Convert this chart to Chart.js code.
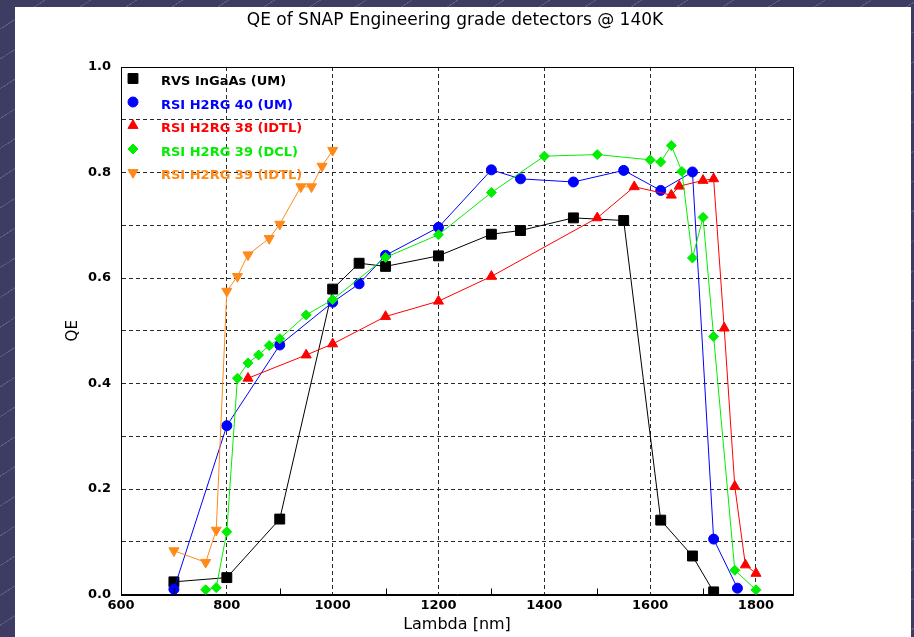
<!DOCTYPE html>
<html>
<head>
<meta charset="utf-8">
<title>QE of SNAP Engineering grade detectors</title>
<script src="https://cdn.jsdelivr.net/npm/chart.js@4.4.1/dist/chart.umd.min.js"></script>
<style>
  html, body { margin: 0; padding: 0; }
  body {
    width: 914px;
    height: 637px;
    overflow: hidden;
    position: relative;
    background-color: #3d3d63;
    background-image: repeating-linear-gradient(147deg, rgba(255,255,255,0) 0px, rgba(255,255,255,0) 24px, rgba(255,255,255,0.16) 24px, rgba(255,255,255,0.16) 25px);
  }
  #panel { position: absolute; left: 15px; top: 7px; width: 896px; height: 630px; background: #fff; }
</style>
</head>
<body>
<div id="panel"><canvas id="qeChart" width="896" height="630"></canvas></div>
<script>
// wavelengths in nm, QE as fraction
const rvsLambda = [700, 800, 900, 1000, 1050, 1100, 1200, 1300, 1355, 1455, 1550, 1620, 1680, 1720];
const rvsQE = [0.024, 0.032, 0.143, 0.579, 0.628, 0.622, 0.642, 0.683, 0.690, 0.714, 0.709, 0.141, 0.073, 0.005];

const h2rg40Lambda = [700, 800, 900, 1000, 1050, 1100, 1200, 1300, 1355, 1455, 1550, 1620, 1680, 1720, 1765];
const h2rg40QE = [0.010, 0.320, 0.473, 0.554, 0.589, 0.643, 0.696, 0.805, 0.788, 0.782, 0.804, 0.766, 0.801, 0.105, 0.012];

const h2rg38Lambda = [840, 950, 1000, 1100, 1200, 1300, 1500, 1570, 1640, 1655, 1700, 1720, 1740, 1760, 1780, 1800];
const h2rg38QE = [0.410, 0.454, 0.475, 0.527, 0.556, 0.603, 0.714, 0.773, 0.757, 0.774, 0.785, 0.788, 0.505, 0.205, 0.056, 0.040];

const h2rg39dLambda = [760, 780, 800, 820, 840, 860, 880, 900, 950, 1000, 1100, 1200, 1300, 1400, 1500, 1600, 1620, 1640, 1660, 1680, 1700, 1720, 1760, 1800];
const h2rg39dQE = [0.009, 0.013, 0.119, 0.410, 0.439, 0.454, 0.472, 0.485, 0.530, 0.559, 0.639, 0.682, 0.762, 0.831, 0.834, 0.824, 0.820, 0.851, 0.802, 0.638, 0.715, 0.489, 0.046, 0.009];

const h2rg39iLambda = [700, 760, 780, 800, 820, 840, 880, 900, 940, 960, 980, 1000];
const h2rg39iQE = [0.083, 0.061, 0.122, 0.575, 0.603, 0.644, 0.675, 0.702, 0.773, 0.773, 0.812, 0.842];

const seriesLabels = ['RVS InGaAs (UM)', 'RSI H2RG 40 (UM)', 'RSI H2RG 38 (IDTL)', 'RSI H2RG 39 (DCL)', 'RSI H2RG 39 (IDTL)'];

const xLabelValues = [600, 800, 1000, 1200, 1400, 1600, 1800];
const yLabelValues = [0.0, 0.2, 0.4, 0.6, 0.8, 1.0];

const FONT = '"DejaVu Sans", sans-serif';
const GRID = '#2a2a2a';

function toPoints(xs, ys) {
  return xs.map((x, i) => ({ x: x, y: ys[i] }));
}

function makeSeries(label, xs, ys, color, style, radius, rotation, order) {
  return {
    label: label,
    data: toPoints(xs, ys),
    borderColor: color,
    backgroundColor: color,
    borderWidth: 1,
    pointStyle: style,
    pointRadius: radius,
    pointRotation: rotation,
    pointBorderWidth: 1,
    pointBorderColor: color,
    pointBackgroundColor: color,
    tension: 0,
    clip: 0,
    order: order
  };
}

// legend drawn inside the plot area, text coloured like its series
const insideLegend = {
  id: 'insideLegend',
  afterDatasetsDraw(chart) {
    const { ctx, chartArea } = chart;
    ctx.save();
    ctx.font = 'bold 13px ' + FONT;
    ctx.textBaseline = 'middle';
    ctx.textAlign = 'left';
    chart.data.datasets.forEach((ds, i) => {
      const y = chartArea.top + 15 + i * 23.5;
      ctx.fillStyle = ds.backgroundColor;
      ctx.strokeStyle = ds.borderColor;
      ctx.lineWidth = 1;
      Chart.helpers.drawPoint(ctx, {
        pointStyle: ds.pointStyle,
        rotation: ds.pointRotation,
        radius: ds.pointRadius,
        borderWidth: 1
      }, chartArea.left + 12, y - 3.5);
      ctx.fillStyle = ds.borderColor;
      ctx.fillText(ds.label, chartArea.left + 40, y);
    });
    ctx.restore();
  }
};

// solid frame plus the short inward ticks at the odd hundreds
const plotFrame = {
  id: 'plotFrame',
  afterDraw(chart) {
    const { ctx, chartArea, scales } = chart;
    ctx.save();
    ctx.strokeStyle = '#000';
    ctx.lineWidth = 1;
    ctx.setLineDash([]);
    ctx.strokeRect(Math.round(chartArea.left) + 0.5, Math.round(chartArea.top) + 0.5,
      Math.round(chartArea.right - chartArea.left), Math.round(chartArea.bottom - chartArea.top));
    ctx.beginPath();
    scales.x.ticks.forEach((t) => {
      if (t.value % 200 !== 0) {
        const px = Math.round(scales.x.getPixelForValue(t.value)) + 0.5;
        ctx.moveTo(px, chartArea.bottom);
        ctx.lineTo(px, chartArea.bottom - 6);
      }
    });
    ctx.stroke();
    ctx.restore();
  }
};

new Chart(document.getElementById('qeChart'), {
  type: 'line',
  data: {
    datasets: [
      makeSeries(seriesLabels[0], rvsLambda, rvsQE, '#000000', 'rect', 7, 0, 5),
      makeSeries(seriesLabels[1], h2rg40Lambda, h2rg40QE, '#0000ff', 'circle', 5, 0, 4),
      makeSeries(seriesLabels[2], h2rg38Lambda, h2rg38QE, '#ff0000', 'triangle', 5.8, 0, 3),
      makeSeries(seriesLabels[3], h2rg39dLambda, h2rg39dQE, '#00ee00', 'rectRot', 5, 0, 2),
      makeSeries(seriesLabels[4], h2rg39iLambda, h2rg39iQE, '#ff8a1a', 'triangle', 5.8, 180, 1)
    ]
  },
  options: {
    responsive: false,
    animation: false,
    layout: { padding: { left: 0, right: 16, top: 0, bottom: 0 } },
    plugins: {
      legend: { display: false },
      tooltip: { enabled: false },
      title: {
        display: true,
        text: 'QE of SNAP Engineering grade detectors @ 140K',
        color: '#000',
        font: { family: FONT, size: 17, weight: 'normal', lineHeight: 1.2 },
        padding: { top: 3, bottom: 36.6 }
      }
    },
    scales: {
      x: {
        type: 'linear',
        min: 600,
        max: 1870,
        afterFit: (scale) => { scale.height = 42.5; },
        ticks: {
          stepSize: 100,
          includeBounds: false,
          autoSkip: false,
          maxRotation: 0,
          padding: 3,
          color: '#000',
          font: { family: FONT, size: 13, weight: 'bold' },
          callback: (value) => (xLabelValues.includes(value) ? String(value) : '')
        },
        grid: {
          drawTicks: false,
          lineWidth: 1,
          color: (ctx) => (ctx.tick && ctx.tick.value % 200 === 0 ? GRID : 'rgba(0,0,0,0)')
        },
        border: { display: true, color: '#000', dash: [4, 3] },
        title: {
          display: true,
          text: 'Lambda [nm]',
          color: '#000',
          font: { family: FONT, size: 16 },
          padding: { top: 0, bottom: 3 }
        }
      },
      y: {
        type: 'linear',
        min: 0,
        max: 1,
        afterFit: (scale) => { scale.width = 106; },
        ticks: {
          stepSize: 0.1,
          autoSkip: false,
          padding: 10,
          color: '#000',
          font: { family: FONT, size: 13, weight: 'bold' },
          callback: (value) => (yLabelValues.some((v) => Math.abs(v - value) < 1e-6) ? value.toFixed(1) : '')
        },
        grid: { drawTicks: false, lineWidth: 1, color: GRID },
        border: { display: true, color: '#000', dash: [4, 3] },
        title: {
          display: true,
          text: 'QE',
          color: '#000',
          font: { family: FONT, size: 15 },
          padding: { top: 49.5, bottom: 0 }
        }
      },
      // empty right-hand axis: keeps the white margin right of the plot
      yPad: {
        type: 'linear',
        position: 'right',
        display: true,
        min: 0,
        max: 1,
        afterFit: (scale) => { scale.width = 102; },
        ticks: { display: false },
        grid: { display: false, drawOnChartArea: false },
        border: { display: false }
      }
    }
  },
  plugins: [insideLegend, plotFrame]
});
</script>
</body>
</html>
